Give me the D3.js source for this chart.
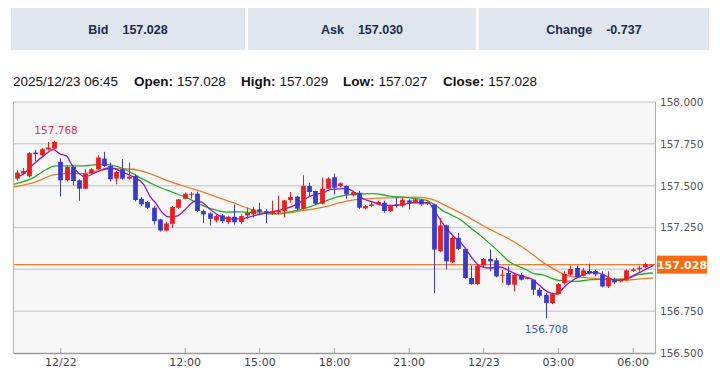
<!DOCTYPE html>
<html>
<head>
<meta charset="utf-8">
<script src="https://cdn.jsdelivr.net/npm/d3@7"></script>
<style>
  html, body { margin: 0; padding: 0; background: #ffffff; }
  svg { display: block; }
</style>
</head>
<body>
<div id="chart"></div>
<script>
// ---------- DATA ----------
const headerLabels = ["Bid", "Ask", "Change"];
const headerValues = ["157.028", "157.030", "-0.737"];

const infoTime = "2025/12/23 06:45";
const infoLabels = ["Open:", "High:", "Low:", "Close:"];
const infoValues = ["157.028", "157.029", "157.027", "157.028"];

// 15-minute candles, index 0..102
const opens = [157.542,157.572,157.556,157.698,157.682,157.716,157.722,157.642,157.532,157.612,
157.532,157.482,157.572,157.598,157.662,157.618,157.542,157.598,157.542,157.558,
157.422,157.402,157.368,157.298,157.232,157.272,157.368,157.422,157.446,157.452,
157.348,157.334,157.292,157.322,157.282,157.314,157.282,157.322,157.328,157.358,
157.348,157.333,157.340,157.348,157.414,157.434,157.362,157.498,157.468,157.392,
157.482,157.550,157.498,157.498,157.442,157.458,157.364,157.378,157.388,157.398,
157.348,157.388,157.380,157.412,157.398,157.414,157.390,157.388,157.108,157.262,
157.042,157.188,157.122,156.948,156.912,157.022,157.062,157.054,156.962,156.978,
156.908,156.968,156.944,156.938,156.878,156.848,156.798,156.852,156.918,156.968,
157.008,156.962,156.990,156.990,156.968,156.898,156.940,156.928,156.938,156.990,
157.000,157.012,157.028];
const highs = [157.592,157.606,157.700,157.714,157.724,157.762,157.768,157.662,157.620,157.618,
157.538,157.598,157.605,157.682,157.702,157.638,157.588,157.658,157.638,157.566,
157.432,157.410,157.378,157.302,157.284,157.378,157.420,157.460,157.462,157.464,
157.358,157.340,157.328,157.330,157.320,157.388,157.330,157.370,157.370,157.398,
157.360,157.410,157.440,157.415,157.462,157.440,157.562,157.518,157.470,157.548,
157.550,157.572,157.520,157.502,157.470,157.470,157.384,157.408,157.410,157.410,
157.385,157.428,157.430,157.418,157.425,157.420,157.405,157.392,157.308,157.268,
157.196,157.218,157.130,157.022,157.028,157.068,157.118,157.068,156.998,157.018,
156.978,156.978,156.955,156.940,156.890,156.858,156.860,156.918,156.988,157.022,
157.022,157.008,157.034,156.998,156.988,156.988,156.950,156.945,157.000,157.008,
157.022,157.040,157.029];
const lows = [157.530,157.562,157.548,157.648,157.678,157.710,157.716,157.436,157.525,157.502,
157.410,157.478,157.566,157.594,157.612,157.526,157.508,157.536,157.536,157.406,
157.378,157.360,157.268,157.226,157.226,157.248,157.362,157.418,157.422,157.342,
157.278,157.262,157.280,157.275,157.270,157.268,157.270,157.300,157.310,157.328,
157.278,157.328,157.328,157.312,157.398,157.355,157.358,157.438,157.385,157.388,
157.478,157.448,157.490,157.422,157.435,157.360,157.358,157.372,157.385,157.338,
157.342,157.368,157.370,157.358,157.395,157.380,157.385,156.858,157.102,156.998,
157.038,157.114,156.944,156.908,156.908,157.008,156.988,156.952,156.918,156.904,
156.868,156.934,156.940,156.848,156.832,156.708,156.792,156.848,156.908,156.962,
156.948,156.958,156.968,156.958,156.892,156.888,156.912,156.922,156.932,156.985,
156.985,157.008,157.027];
const closes = [157.578,157.588,157.694,157.688,157.718,157.728,157.762,157.532,157.612,157.528,
157.482,157.572,157.598,157.668,157.618,157.538,157.582,157.542,157.554,157.414,
157.388,157.368,157.288,157.232,157.274,157.372,157.418,157.452,157.452,157.348,
157.328,157.302,157.318,157.288,157.314,157.282,157.318,157.338,157.358,157.344,
157.338,157.348,157.350,157.412,157.432,157.362,157.498,157.462,157.392,157.482,
157.542,157.488,157.514,157.448,157.462,157.368,157.378,157.388,157.402,157.348,
157.378,157.378,157.416,157.398,157.418,157.388,157.400,157.118,157.262,157.048,
157.188,157.122,156.948,156.912,157.022,157.062,157.048,156.958,156.968,156.908,
156.968,156.938,156.948,156.878,156.842,156.798,156.852,156.912,156.972,157.002,
156.954,156.994,156.976,156.970,156.898,156.948,156.922,156.938,156.994,157.000,
157.010,157.032,157.028];

// moving averages: [candle index, price]
const maFast = [[0,157.55],[1,157.568],[2.7,157.628],[4.3,157.678],[5.9,157.715],[7,157.688],[8,157.678],
[8.8,157.628],[11,157.553],[12.9,157.582],[15,157.607],[17.1,157.58],[18.7,157.553],[20.4,157.508],
[21.4,157.438],[22.5,157.388],[23,157.358],[24.4,157.314],[25.7,157.318],[27.1,157.358],[28.7,157.408],
[29.7,157.402],[31.1,157.358],[32.7,157.318],[34.3,157.302],[35.9,157.302],[37.5,157.314],[39.1,157.328],
[40.7,157.342],[42.9,157.358],[45,157.388],[47.2,157.438],[49.3,157.458],[50.6,157.478],[53,157.482],
[54.4,157.458],[55.7,157.422],[57.3,157.402],[58.9,157.382],[60.5,157.382],[62.2,157.388],[63.8,157.398],
[66.2,157.398],[67,157.358],[68.6,157.268],[70.2,157.198],[71.8,157.142],[73.2,157.068],[74.5,157.018],
[76.1,157.008],[77.7,157.014],[79.3,156.988],[80.9,156.962],[82.8,156.942],[83.9,156.908],[85.5,156.862],
[86.8,156.852],[88.1,156.898],[89.7,156.942],[91.3,156.972],[92.9,156.982],[94.6,156.962],[96.2,156.934],
[97.8,156.942],[99.4,156.968],[101,156.998],[102.3,157.022]];
const maMid = [[-0.5,157.508],[2.7,157.548],[4.8,157.598],[6.2,157.618],[8,157.618],[10.7,157.618],
[13.4,157.628],[15,157.624],[17.7,157.592],[19.8,157.548],[22.5,157.498],[25.2,157.458],[27.3,157.428],
[29.5,157.388],[31.6,157.358],[33.8,157.342],[35.9,157.343],[38.6,157.338],[41.3,157.331],[43.9,157.344],
[46.6,157.368],[49.3,157.404],[51.4,157.432],[54.1,157.448],[57.3,157.452],[60,157.438],[63.2,157.427],
[65.9,157.412],[67.5,157.378],[68.6,157.348],[69.7,157.328],[71.8,157.284],[72.3,157.268],[75,157.188],
[77.7,157.098],[79.3,157.042],[80.9,157.014],[81.7,157.002],[83.1,156.974],[84.4,156.968],[87.1,156.934],
[89.8,156.928],[92.4,156.938],[95.1,156.942],[97.8,156.942],[99.9,156.968],[102.3,156.978]];
const maSlow = [[-0.5,157.492],[2.7,157.518],[5.9,157.564],[8,157.572],[10.7,157.572],[13.4,157.592],
[16.1,157.602],[18.7,157.598],[21.4,157.572],[24.1,157.532],[26.8,157.498],[29.5,157.468],[32.2,157.432],
[34.8,157.398],[38.6,157.348],[42.3,157.332],[46.1,157.352],[49.3,157.372],[52,157.398],[54.7,157.418],
[57.3,157.424],[61.1,157.428],[64.3,157.432],[66.4,157.422],[69.1,157.378],[72.3,157.318],[75.6,157.248],
[78.8,157.188],[81.5,157.128],[83.3,157.078],[84.9,157.034],[86.5,156.998],[88.1,156.968],[89.8,156.954],
[92.4,156.948],[95.1,156.938],[97.8,156.934],[99.9,156.942],[102.3,156.948]];

const tickIdx = [7, 27, 39, 51, 63, 75, 87, 99];
const tickLabels = ["12/22", "12:00", "15:00", "18:00", "21:00", "12/23", "03:00", "06:00"];
const yTicks = [156.5, 156.75, 157.0, 157.25, 157.5, 157.75, 158.0];
const lastPrice = 157.028;

// ---------- DRAW ----------
(function () {
const W = 720, H = 376;
const svg = d3.select("#chart").append("svg").attr("width", W).attr("height", H);

// header boxes
const boxes = [[11, 234], [248, 228], [479, 230]];
boxes.forEach((b, i) => {
  svg.append("rect").attr("x", b[0]).attr("y", 8).attr("width", b[1]).attr("height", 42)
    .attr("fill", "#dfe6ee");
  const t = svg.append("text").attr("x", b[0] + b[1] / 2).attr("y", 34)
    .attr("text-anchor", "middle").attr("font-family", "'Liberation Sans', Arial, sans-serif")
    .attr("font-size", 12.5).attr("font-weight", "bold").attr("fill", "#1d2b4c");
  t.append("tspan").text(headerLabels[i]);
  t.append("tspan").attr("dx", 14).text(headerValues[i]);
});

// info line
const infoX = [134, 241, 343, 443];
svg.append("text").attr("x", 13).attr("y", 86)
  .attr("font-family", "'Liberation Sans', Arial, sans-serif").attr("font-size", 13.5)
  .attr("fill", "#111").text(infoTime);
infoLabels.forEach((l, i) => {
  const t = svg.append("text").attr("x", infoX[i]).attr("y", 86)
    .attr("font-family", "'Liberation Sans', Arial, sans-serif").attr("font-size", 13.5)
    .attr("fill", "#111");
  t.append("tspan").attr("font-weight", "bold").text(l);
  t.append("tspan").attr("dx", 4).text(infoValues[i]);
});

// plot
const pL = 13, pR = 655, pT = 102, pB = 353;
const x = d3.scaleLinear().domain([-0.6, 102.6]).range([pL, pR]);
const y = d3.scaleLinear().domain([156.5, 158.0]).range([pB, pT]);

svg.append("rect").attr("x", pL).attr("y", pT).attr("width", pR - pL).attr("height", pB - pT)
  .attr("fill", "#f7f7f7");

// grid
svg.append("g").selectAll("line").data(yTicks.filter(d => d > 156.5)).join("line")
  .attr("x1", pL).attr("x2", pR).attr("y1", d => y(d)).attr("y2", d => y(d))
  .attr("stroke", "#d2d2d2").attr("stroke-width", 1.5);

// clip
svg.append("clipPath").attr("id", "plotclip").append("rect")
  .attr("x", pL).attr("y", pT).attr("width", pR - pL).attr("height", pB - pT);
const plot = svg.append("g").attr("clip-path", "url(#plotclip)");

// last price line
plot.append("line").attr("x1", pL).attr("x2", pR)
  .attr("y1", y(lastPrice)).attr("y2", y(lastPrice))
  .attr("stroke", "#f07a30").attr("stroke-width", 1.4);

// moving averages
const line = d3.line().x(d => x(d[0])).y(d => y(d[1])).curve(d3.curveMonotoneX);
[[maSlow, "#f07a28"], [maMid, "#22b022"], [maFast, "#9a10d0"]].forEach(([data, c]) => {
  plot.append("path").datum(data).attr("d", line).attr("fill", "none")
    .attr("stroke", c).attr("stroke-width", 1.3);
});

// candles
const idx = d3.range(opens.length);
const col = i => closes[i] >= opens[i] ? "#f01c1c" : "#3a3ad2";
const bw = 4.8;
const cg = plot.append("g");
cg.selectAll("line").data(idx).join("line")
  .attr("x1", i => Math.round(x(i)) + 0.5).attr("x2", i => Math.round(x(i)) + 0.5)
  .attr("y1", i => y(highs[i])).attr("y2", i => y(lows[i]))
  .attr("stroke", col).attr("stroke-width", 1);
cg.selectAll("rect").data(idx).join("rect")
  .attr("x", i => Math.round(x(i)) + 0.5 - bw / 2)
  .attr("y", i => y(Math.max(opens[i], closes[i])))
  .attr("width", bw)
  .attr("height", i => Math.max(1, Math.abs(y(opens[i]) - y(closes[i]))))
  .attr("fill", col);

// max / min labels
const iMax = d3.maxIndex(highs), iMin = d3.minIndex(lows);
svg.append("text").attr("x", x(iMax) + 2).attr("y", y(highs[iMax]) - 7)
  .attr("text-anchor", "middle").attr("font-family", "'DejaVu Sans', Verdana, sans-serif")
  .attr("font-size", 10.5).attr("fill", "#e0305c").text(highs[iMax].toFixed(3));
svg.append("text").attr("x", x(iMin) + 1).attr("y", y(lows[iMin]) + 15)
  .attr("text-anchor", "middle").attr("font-family", "'DejaVu Sans', Verdana, sans-serif")
  .attr("font-size", 10.5).attr("fill", "#3a5eb4").text(lows[iMin].toFixed(3));

// frame
svg.append("line").attr("x1", pL + 0.5).attr("x2", pL + 0.5).attr("y1", pT).attr("y2", pB)
  .attr("stroke", "#b5b5b5");
svg.append("line").attr("x1", pR + 0.5).attr("x2", pR + 0.5).attr("y1", pT).attr("y2", pB)
  .attr("stroke", "#a8a8a8");

// y axis (the label under the last-price box is hidden, as in the reference)
const yLabelTicks = yTicks.filter(d => Math.abs(y(d) - y(lastPrice)) > 12);
const ya = svg.append("g").attr("transform", `translate(${pR},0)`)
  .call(d3.axisRight(y).tickValues(yLabelTicks).tickFormat(d3.format(".3f")).tickSize(0).tickPadding(5));
ya.select(".domain").remove();
ya.selectAll("text").attr("font-family", "'DejaVu Sans', Verdana, sans-serif")
  .attr("font-size", 10.5).attr("fill", "#555");

// x axis
const xa = svg.append("g").attr("transform", `translate(0,${pB})`)
  .call(d3.axisBottom(x).tickValues(tickIdx).tickFormat((d, i) => tickLabels[i])
    .tickSizeInner(-5).tickSizeOuter(0).tickPadding(5));
xa.select(".domain").attr("stroke", "#9a9a9a").attr("stroke-width", 1.5);
xa.selectAll(".tick line").attr("stroke", "#aaa");
xa.selectAll("text").attr("font-family", "'DejaVu Sans', Verdana, sans-serif")
  .attr("font-size", 11).attr("fill", "#444");

// last price label
svg.append("rect").attr("x", pR + 2).attr("y", y(lastPrice) - 9).attr("width", 50).attr("height", 18)
  .attr("fill", "#ff6a10");
svg.append("text").attr("x", pR + 27).attr("y", y(lastPrice) + 4.5).attr("text-anchor", "middle")
  .attr("font-family", "'DejaVu Sans', Verdana, sans-serif").attr("font-size", 11)
  .attr("font-weight", "bold").attr("fill", "#fff").text(lastPrice.toFixed(3));
})();
</script>
</body>
</html>
